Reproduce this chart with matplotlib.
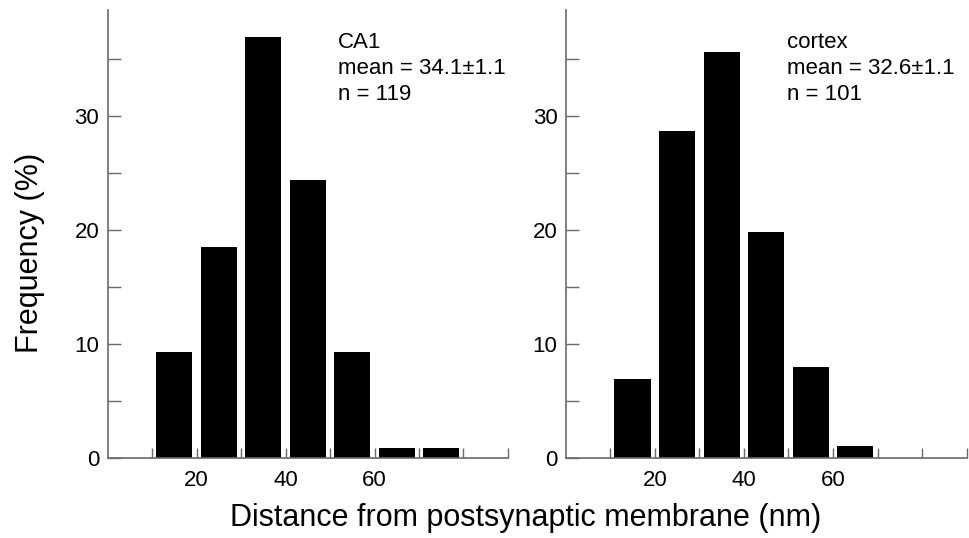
import numpy as np
import matplotlib.pyplot as plt

plt.rcParams['font.family'] = ['Liberation Sans', 'DejaVu Sans']

# bin centres (nm) and frequencies (%)
ca1_bins = [15, 25, 35, 45, 55, 65, 75]
ca1_freq = [9.24, 18.49, 36.97, 24.37, 9.24, 0.84, 0.84]
ctx_bins = [15, 25, 35, 45, 55, 65]
ctx_freq = [6.93, 28.71, 35.64, 19.80, 7.92, 0.99]

panels = [
    ("CA1", "mean = 34.1\u00b11.1", "n = 119", ca1_bins, ca1_freq, 0.575),
    ("cortex", "mean = 32.6\u00b11.1", "n = 101", ctx_bins, ctx_freq, 0.551),
]

fig = plt.figure(figsize=(9.69, 5.38), dpi=100)
ax_pos = [[0.1111, 0.1493, 0.4131, 0.832],
          [0.5838, 0.1493, 0.4138, 0.832]]
spine_col = "#6a6a6a"

for pos, (name, mean_txt, n_txt, bins, freq, tx) in zip(ax_pos, panels):
    ax = fig.add_axes(pos)
    ax.bar(bins, freq, width=8.1, color="black", edgecolor="none")
    ax.set_xlim(0, 90)
    ax.set_ylim(0, 39.3)
    for s in ["top", "right"]:
        ax.spines[s].set_visible(False)
    for s in ["left", "bottom"]:
        ax.spines[s].set_color(spine_col)
        ax.spines[s].set_linewidth(1.2)
    ax.set_yticks([0, 10, 20, 30])
    ax.set_yticks([5, 15, 25, 35], minor=True)
    ax.set_xticks([20, 40, 60])
    ax.set_xticks([10, 30, 50, 70, 80, 90], minor=True)
    ax.tick_params(axis="y", which="both", direction="in", length=9,
                   width=1, color=spine_col, labelsize=16, pad=6)
    ax.tick_params(axis="x", which="both", direction="in", length=7,
                   width=1, color=spine_col, labelsize=16, pad=9)
    ax.text(tx, 0.95, name + "\n" + mean_txt + "\n" + n_txt,
            transform=ax.transAxes, ha="left", va="top", fontsize=16,
            linespacing=1.3)

fig.text(0.031, 0.53, "Frequency (%)", rotation=90, ha="center",
         va="center", fontsize=22)
fig.text(0.542, 0.038, "Distance from postsynaptic membrane (nm)",
         ha="center", va="center", fontsize=22)

fig.savefig("out.png", dpi=100)
